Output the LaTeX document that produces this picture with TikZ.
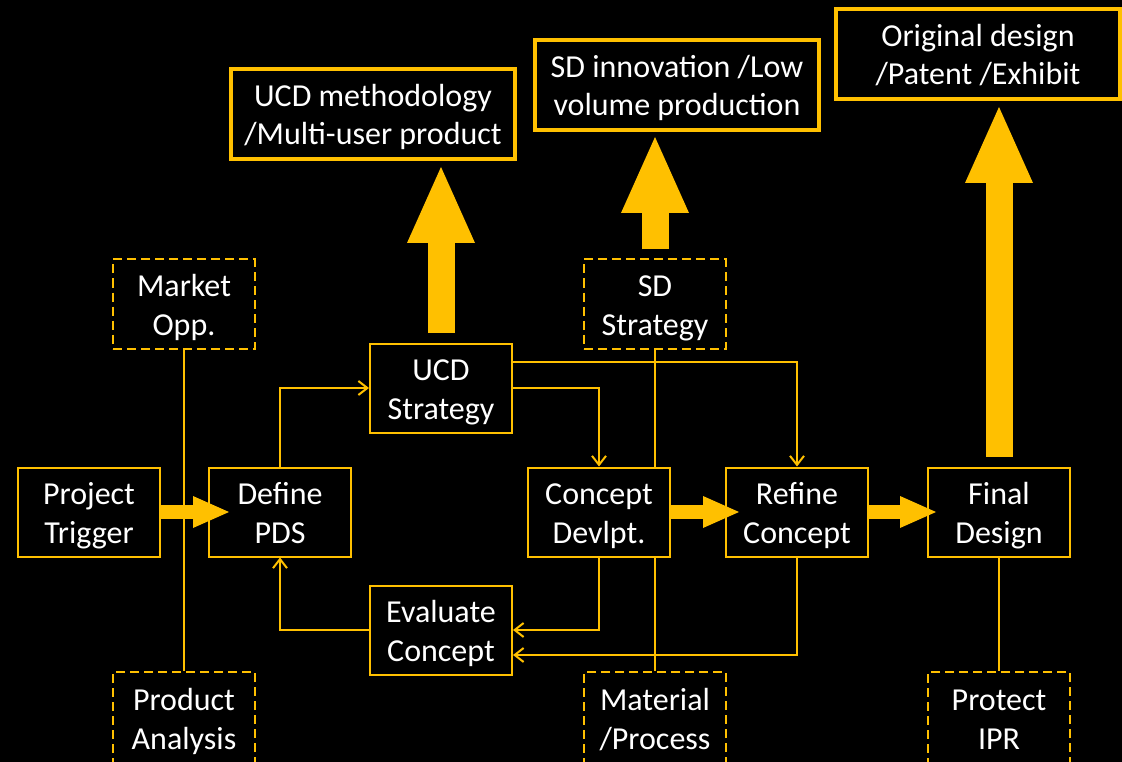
\documentclass[tikz,border=0pt]{standalone}
\usepackage{fontspec}
\setmainfont{Carlito}
\usetikzlibrary{arrows.meta,backgrounds}

\definecolor{gold}{HTML}{FFC000}

\tikzset{
  stage/.style={draw=gold, line width=2pt, fill=black, text=white, align=center,
    minimum width=142pt, minimum height=89pt, inner sep=0pt,
    text height=62pt, text depth=0pt,
    font=\fontsize{32}{38.5}\selectfont},
  aux/.style={stage, dash pattern=on 9pt off 5pt},
  result/.style={stage, line width=4pt, minimum width=284pt, minimum height=90pt},
  flow/.style={draw=gold, line width=2pt, -{Straight Barb[length=9pt,width=14pt]}},
  link/.style={draw=gold, line width=2pt},
  fatup/.style={draw=gold, line width=27pt, -{Triangle[length=76pt,width=68pt,line width=0pt]}},
  fatright/.style={draw=gold, line width=14pt, -{Triangle[length=36pt,width=32pt,line width=0pt]}}
}

\begin{document}
\begin{tikzpicture}[x=1pt, y=-1pt]
    \useasboundingbox (0,0) rectangle (1122,762);

    % process boxes
    \node[stage] (trigger) at (89,512) {Project\\Trigger};
    \node[stage] (pds) at (280,512) {Define\\PDS};
    \node[stage] (ucd) at (441,388) {UCD\\Strategy};
    \node[stage] (devlpt) at (599,512) {Concept\\Devlpt.};
    \node[stage] (refine) at (797,512) {Refine\\Concept};
    \node[stage] (final) at (999,512) {Final\\Design};
    \node[stage] (evaluate) at (441,630) {Evaluate\\Concept};

    % inputs (dashed)
    \node[aux] (market) at (184,304) {Market\\Opp.};
    \node[aux] (sdstrat) at (655,304) {SD\\Strategy};
    \node[aux, minimum height=92pt] (prodan) at (184,718) {Product\\Analysis};
    \node[aux, minimum height=92pt] (material) at (655,718) {Material\\/Process};
    \node[aux, minimum height=92pt] (ipr) at (999,718) {Protect\\IPR};

    % outcomes
    \node[result] (ucdout) at (373,114) {UCD methodology\\/Multi-user product};
    \node[result] (sdout) at (677,85) {SD innovation /Low\\volume production};
    \node[result] (finalout) at (978,54) {Original design\\/Patent /Exhibit};

    \begin{pgfonlayer}{background}
        \fill[black] (0,0) rectangle (1122,762);
        \draw[link] (market.south) -- (prodan.north);
        \draw[link] (sdstrat.south) -- (material.north);
        \draw[link] (final.south) -- (ipr.north);
    \end{pgfonlayer}

    \draw[flow] (pds.north) |- (ucd.west);
    \draw[flow] (ucd.east) -| (devlpt.north);
    \draw[flow] ([yshift=26pt]ucd.east) -| (refine.north);
    \draw[flow] (devlpt.south) |- (evaluate.east);
    \draw[flow] (refine.south) |- ([yshift=-25pt]evaluate.east);
    \draw[flow] (evaluate.west) -| (pds.south);

    \draw[fatright] (trigger.east) -- ([xshift=21pt]pds.west);
    \draw[fatright] (devlpt.east) -- ([xshift=14pt]refine.west);
    \draw[fatright] (refine.east) -- ([xshift=9pt]final.west);

    \draw[fatup] ([yshift=10pt]ucd.north) -- ([yshift=-6pt]ucd.north |- ucdout.south);
    \draw[fatup] ([yshift=9pt]sdstrat.north) -- ([yshift=-5pt]sdstrat.north |- sdout.south);
    \draw[fatup] ([yshift=10pt]final.north) -- ([yshift=-6pt]final.north |- finalout.south);
\end{tikzpicture}
\end{document}
